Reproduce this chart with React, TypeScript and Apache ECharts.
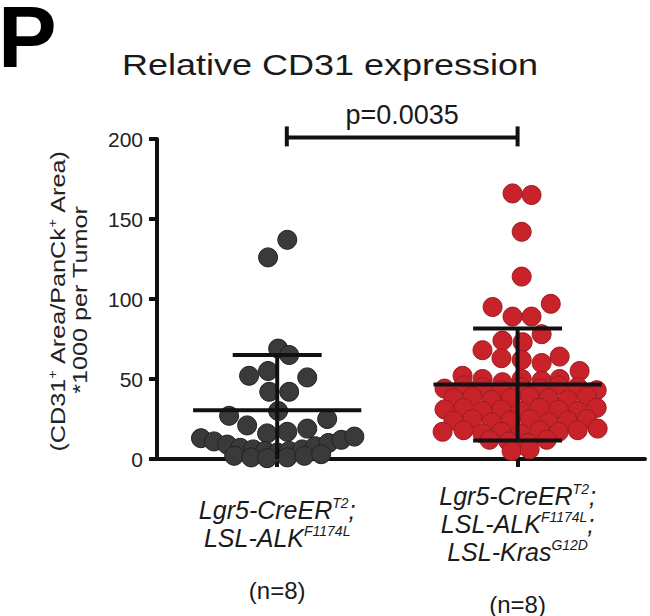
import React, { useEffect, useRef } from "react";
import * as echarts from "echarts";

// ---- data ----
const chartTitle = "Relative CD31 expression";
const panelLetter = "P";
const pValueText = "p=0.0035";
const yTicksMin = 0;
const yTicksMax = 200;
const yTickStep = 50;

// group 1 (Lgr5-CreER;LSL-ALK) : horizontal swarm offset, value
const g1Offset = [
  -0.038, 0.042, 0.004, 0.05, -0.117, -0.038, 0.125, -0.033, 0.05, -0.2, 0.004, 0.208,
  -0.125, -0.042, 0.042, 0.125,
  -0.317, -0.263, -0.208, -0.154, -0.1, -0.05, 0, 0.05, 0.104, 0.158, 0.213, 0.267, 0.321,
  -0.179, -0.108, -0.042, 0.042, 0.113, 0.183,
];
const g1Value = [
  126, 137, 69, 65, 52, 55, 51, 42, 42, 27, 30, 25,
  21, 16, 17, 19,
  13, 11, 9, 7, 6, 5, 4, 5, 6, 8, 10, 12, 14,
  2, 1, 0.5, 1, 2, 3,
];

// group 2 (Lgr5-CreER;LSL-ALK;LSL-Kras)
const g2Offset = [
  -0.021, 0.058, 0.017, 0.017, -0.104, 0.138, -0.021, 0.058, 0.1, -0.063, 0.021, -0.146,
  -0.067, 0.1, 0.175, 0.017,
  -0.229, -0.146, -0.063, 0.017, 0.1, 0.175, 0.258,
  -0.304, -0.225, -0.146, -0.067, 0.013, 0.092, 0.171, 0.25, 0.329,
  -0.267, -0.188, -0.108, -0.029, 0.05, 0.129, 0.208, 0.288,
  -0.304, -0.225, -0.146, -0.067, 0.013, 0.092, 0.171, 0.25, 0.329,
  -0.267, -0.188, -0.108, -0.029, 0.05, 0.129, 0.208, 0.288,
  -0.312, -0.225, -0.146, -0.067, 0.013, 0.092, 0.171, 0.25, 0.333,
  -0.117, -0.038, 0.042, 0.121,
  -0.025, 0.05,
];
const g2Value = [
  166, 165, 142, 114, 95, 97, 89, 89, 78, 74, 73, 68,
  63, 60, 64, 62,
  52, 50, 48, 50, 49, 50, 55,
  44, 46, 45, 43, 45, 44, 46, 45, 43,
  38, 39, 37, 38, 39, 38, 37, 39,
  31, 32, 30, 31, 30, 32, 31, 30, 32,
  24, 25, 23, 24, 25, 23, 24, 25,
  17, 18, 16, 17, 16, 18, 17, 18, 19,
  12, 11, 10, 12,
  5, 6,
];

// mean and SD per group
const groupMean = [30.5, 46.5];
const groupSD = [34.5, 35];

// category labels
const labelLines = [
  [
    ["Lgr5-CreER", "T2", ";"],
    ["LSL-ALK", "F1174L", ""],
  ],
  [
    ["Lgr5-CreER", "T2", ";"],
    ["LSL-ALK", "F1174L", ";"],
    ["LSL-Kras", "G12D", ""],
  ],
];
const nLabels = ["(n=8)", "(n=8)"];

// significance bracket
const bracketFrom = 0.04;
const bracketTo = 1.0;
const bracketValue = 201;

const FONT = "'Liberation Sans', Arial, Helvetica, sans-serif";

export default function App() {
  const ref = useRef<HTMLDivElement>(null);

  useEffect(() => {
    document.body.style.margin = "0";
    if (!ref.current) return;
    const chart = echarts.init(ref.current, null, { renderer: "svg" });

    const g1Data = g1Offset.map((o, i) => [0 + o, g1Value[i]]);
    const g2Data = g2Offset.map((o, i) => [1 + o, g2Value[i]]);
    const ebData = groupMean.map((m, i) => [i, m, groupSD[i]]);

    const labelText = labelLines.map((lines, gi) => {
      const body = lines
        .map(([a, s, t]) => `{it|${a}}{sup|${s}}` + (t ? `{it|${t}}` : ""))
        .join("\n");
      return body + "\n{gap| }\n{n|" + nLabels[gi] + "}";
    });

    const option: any = {
      animation: false,
      backgroundColor: "#ffffff",
      grid: { left: 157, right: 5, top: 139, bottom: 155, containLabel: false },
      xAxis: {
        type: "value",
        min: -0.5,
        max: 1.53,
        splitLine: { show: false },
        axisLine: { show: true, onZero: false, lineStyle: { color: "#111", width: 4 } },
        axisTick: {
          show: true,
          customValues: [0, 1],
          length: 8,
          lineStyle: { color: "#111", width: 4 },
        },
        axisLabel: {
          show: true,
          customValues: [0, 1],
          margin: 91,
          verticalAlign: "middle",
          align: "center",
          formatter: (v: number) => labelText[Math.round(v)] ?? "",
          rich: {
            it: { fontStyle: "italic", fontSize: 25, lineHeight: 28, color: "#1a1a1a", fontFamily: FONT },
            sup: { fontStyle: "italic", fontSize: 14, lineHeight: 14, verticalAlign: "top", color: "#1a1a1a", fontFamily: FONT },
            gap: { fontSize: 12, lineHeight: 24 },
            n: { fontSize: 24, lineHeight: 28, color: "#1a1a1a", fontFamily: FONT },
          },
        },
      },
      yAxis: {
        type: "value",
        min: yTicksMin,
        max: yTicksMax,
        interval: yTickStep,
        splitLine: { show: false },
        axisLine: { show: true, onZero: false, lineStyle: { color: "#111", width: 4 } },
        axisTick: { show: true, length: 8, lineStyle: { color: "#111", width: 4 } },
        axisLabel: { fontSize: 21, color: "#222", margin: 14, fontFamily: FONT },
      },
      graphic: [
        {
          type: "text",
          x: -2,
          y: -8,
          style: { text: panelLetter, font: `bold 88px ${FONT}`, fill: "#000", textVerticalAlign: "top" },
        },
        {
          type: "text",
          x: 330,
          y: 65,
          scaleX: 1.2,
          style: {
            text: chartTitle,
            font: `30px ${FONT}`,
            fill: "#1a1a1a",
            textAlign: "center",
            textVerticalAlign: "middle",
          },
        },
        {
          type: "text",
          x: 58,
          y: 301,
          rotation: Math.PI / 2,
          scaleX: 1.2,
          style: {
            text: "{a|(CD31}{s|+}{a| Area/PanCk}{s|+}{a| Area)}",
            rich: {
              a: { fontSize: 21, fontFamily: FONT, fill: "#222", lineHeight: 22 },
              s: { fontSize: 12, fontFamily: FONT, fill: "#222", lineHeight: 12, verticalAlign: "top" },
            },
            textAlign: "center",
            textVerticalAlign: "middle",
          },
        },
        {
          type: "text",
          x: 80,
          y: 300,
          rotation: Math.PI / 2,
          scaleX: 1.2,
          style: {
            text: "*1000 per Tumor",
            font: `21px ${FONT}`,
            fill: "#222",
            textAlign: "center",
            textVerticalAlign: "middle",
          },
        },
      ],
      series: [
        {
          type: "scatter",
          data: g1Data,
          symbol: "circle",
          symbolSize: 19,
          itemStyle: { color: "#3a3a3a", borderColor: "#222", borderWidth: 1, opacity: 1 },
          z: 2,
        },
        {
          type: "scatter",
          data: g2Data,
          symbol: "circle",
          symbolSize: 19,
          itemStyle: { color: "#c8232b", borderColor: "#9b1b20", borderWidth: 1, opacity: 1 },
          z: 2,
        },
        {
          type: "custom",
          data: ebData,
          z: 5,
          clip: false,
          renderItem: (params: any, api: any) => {
            const x = api.value(0);
            const m = api.value(1);
            const sd = api.value(2);
            const lo = Math.max(0, m - sd);
            const hi = m + sd;
            const seg = (x1: number, y1: number, x2: number, y2: number) => {
              const a = api.coord([x1, y1]);
              const b = api.coord([x2, y2]);
              return {
                type: "line",
                shape: { x1: a[0], y1: a[1], x2: b[0], y2: b[1] },
                style: { stroke: "#111", lineWidth: 4 },
              };
            };
            const children: any[] = [
              seg(x, lo, x, hi),
              seg(x - 0.35, m, x + 0.35, m),
              seg(x - 0.185, hi, x + 0.185, hi),
            ];
            if (m - sd >= 0) children.push(seg(x - 0.185, lo, x + 0.185, lo));
            return { type: "group", children };
          },
        },
        {
          type: "custom",
          data: [[bracketFrom, bracketTo, bracketValue]],
          z: 5,
          clip: false,
          renderItem: (params: any, api: any) => {
            const a = api.coord([api.value(0), api.value(2)]);
            const b = api.coord([api.value(1), api.value(2)]);
            const st = { stroke: "#111", lineWidth: 4 };
            return {
              type: "group",
              children: [
                { type: "line", shape: { x1: a[0], y1: a[1], x2: b[0], y2: b[1] }, style: st },
                { type: "line", shape: { x1: a[0], y1: a[1] - 11, x2: a[0], y2: a[1] + 9 }, style: st },
                { type: "line", shape: { x1: b[0], y1: b[1] - 11, x2: b[0], y2: b[1] + 9 }, style: st },
                {
                  type: "text",
                  x: (a[0] + b[0]) / 2,
                  y: a[1] - 22,
                  style: {
                    text: pValueText,
                    font: `27px ${FONT}`,
                    fill: "#1a1a1a",
                    textAlign: "center",
                    textVerticalAlign: "middle",
                  },
                },
              ],
            };
          },
        },
      ],
    };

    chart.setOption(option);
    return () => chart.dispose();
  }, []);

  return <div ref={ref} style={{ width: 650, height: 616 }} />;
}
